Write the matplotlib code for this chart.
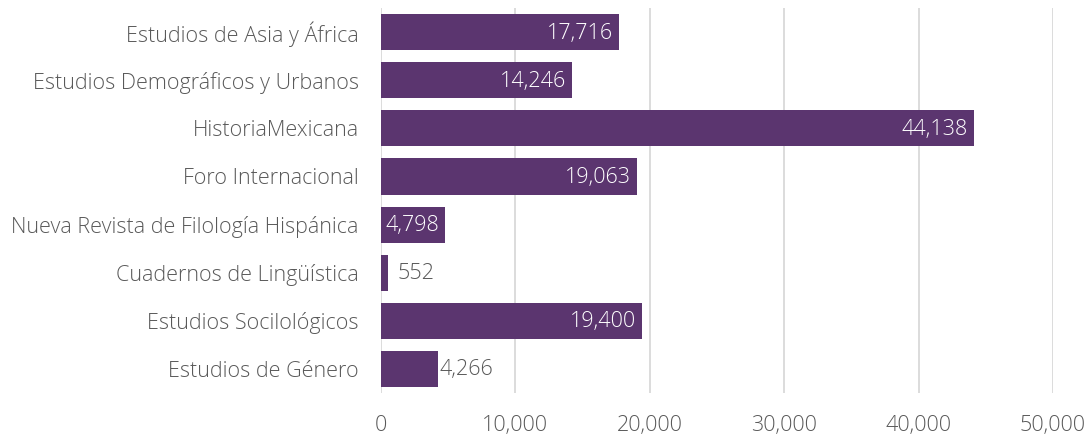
import matplotlib
matplotlib.use("Agg")
import matplotlib.pyplot as plt
from matplotlib.ticker import FuncFormatter

categories = [
    "Estudios de Asia y África",
    "Estudios Demográficos y Urbanos",
    "HistoriaMexicana",
    "Foro Internacional",
    "Nueva Revista de Filología Hispánica",
    "Cuadernos de Lingüística",
    "Estudios Socilológicos",
    "Estudios de Género",
]
values = [17716, 14246, 44138, 19063, 4798, 552, 19400, 4266]
# label placement per bar: 'in' = inside end (white), 'out' = outside end (grey), 'edge' = at bar end (grey)
label_pos = ["in", "in", "in", "in", "in", "out", "in", "edge"]
xticks = [0, 10000, 20000, 30000, 40000, 50000]

plt.rcParams['font.family'] = ['Open Sans', 'DejaVu Sans']
BAR = "#5B356F"
GREY = "#595959"
FS = 15.5
FW = 'light'

fig = plt.figure(figsize=(10.9, 4.38), dpi=100)
ax = fig.add_axes([0.3495, 0.1027, 0.6165, 0.879])

y = list(range(len(categories)))
ax.barh(y, values, height=0.75, color=BAR, zorder=3)
ax.set_ylim(len(categories) - 0.5, -0.5)
ax.set_xlim(0, 50000)
ax.set_xticks(xticks)
ax.xaxis.set_major_formatter(FuncFormatter(lambda v, p: f"{int(v):,}"))
ax.set_yticks(y)
ax.set_yticklabels(categories)
ax.tick_params(axis='both', length=0, labelsize=FS, colors=GREY)
ax.tick_params(axis='y', pad=16)
ax.tick_params(axis='x', pad=16)
for lab in ax.get_xticklabels() + ax.get_yticklabels():
    lab.set_fontweight(FW)
ax.grid(axis='x', color="#D9D9D9", linewidth=1.3, zorder=0)
for s in ax.spines.values():
    s.set_visible(False)

for yi, v, pos in zip(y, values, label_pos):
    txt = f"{v:,}"
    if pos == "in":
        ax.annotate(txt, (v, yi), xytext=(-6, -1), textcoords='offset pixels',
                    ha='right', va='center', color='white', fontsize=FS, fontweight=FW, zorder=4)
    elif pos == "out":
        ax.annotate(txt, (v, yi), xytext=(9, -1), textcoords='offset pixels',
                    ha='left', va='center', color=GREY, fontsize=FS, fontweight=FW, zorder=4)
    else:
        ax.annotate(txt, (v, yi), xytext=(1, -1), textcoords='offset pixels',
                    ha='left', va='center', color=GREY, fontsize=FS, fontweight=FW, zorder=4)

fig.savefig("out.png", dpi=100)
